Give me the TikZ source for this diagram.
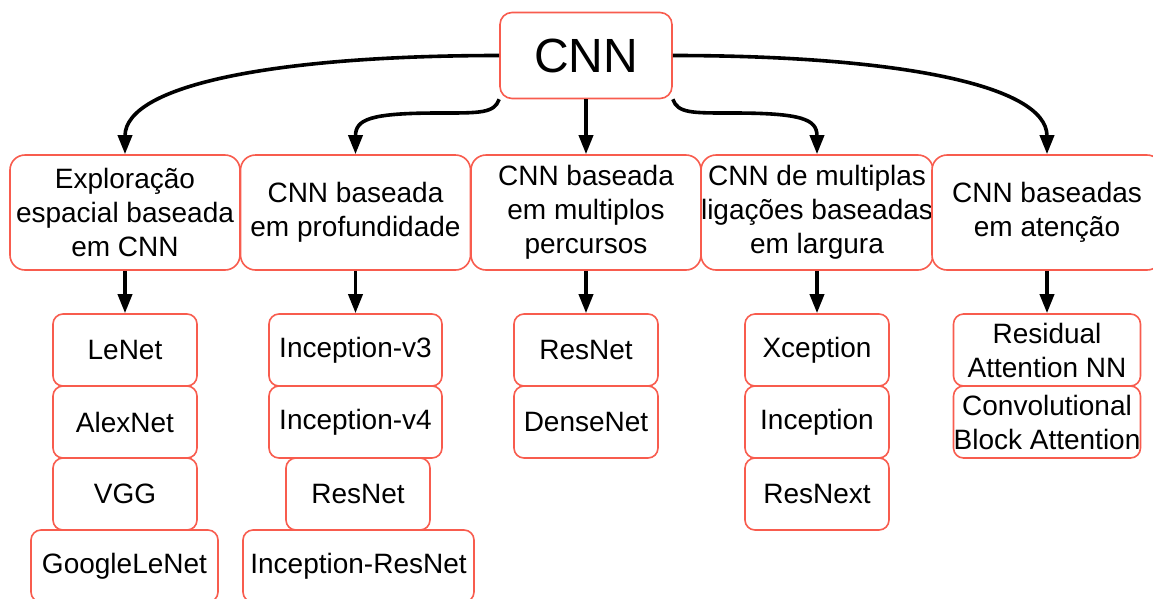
\documentclass[tikz,border=0pt]{standalone}
\usepackage{fontspec}
\setmainfont{Liberation Sans}
\usetikzlibrary{arrows.meta}
\definecolor{boxred}{RGB}{248,92,78}
\tikzset{
  basebox/.style={draw=boxred, line width=1.6pt, fill=white, inner sep=0pt,
    align=center, font=\fontsize{28}{34}\selectfont},
  rootbox/.style={basebox, rounded corners=12pt, minimum width=172pt,
    minimum height=86pt, font=\fontsize{48}{56}\selectfont},
  catbox/.style={basebox, rounded corners=15pt, minimum width=230pt,
    minimum height=115pt},
  itembox/.style={basebox, rounded corners=10pt, minimum height=72pt},
  conn/.style={line width=3.6pt, -{Triangle[length=19pt,width=14pt]}}
}
\begin{document}
\begin{tikzpicture}[x=1pt,y=-1pt]
\useasboundingbox (0,0) rectangle (1153,598);
\clip (0,0) rectangle (1153,598);

% root
\node[rootbox] (cnn) at (586,55.5) {CNN};

% categories
\node[catbox] (b1) at (125,212.5) {Exploração\\espacial baseada\\em CNN};
\node[catbox] (b2) at (355.5,212.5) {CNN baseada\\em profundidade};
\node[catbox] (b3) at (586,212.5) {CNN baseada\\em multiplos\\percursos};
\node[catbox] (b4) at (817,212.5) {CNN de multiplas\\ligações baseadas\\em largura};
\node[catbox] (b5) at (1047,212.5) {CNN baseadas\\em atenção};

% spatial exploitation
\node[itembox, minimum width=144pt] (l1) at (125,350) {LeNet};
\node[itembox, minimum width=144pt] (l2) at (125,422) {AlexNet};
\node[itembox, minimum width=144pt] (l3) at (125,494) {VGG};
\node[itembox, minimum width=187pt] (l4) at (124.5,566) {GoogleLeNet};

% depth
\node[itembox, minimum width=173pt] (p1) at (355.5,350) {Inception-v3};
\node[itembox, minimum width=173pt] (p2) at (355.5,422) {Inception-v4};
\node[itembox, minimum width=144pt] (p3) at (358,494) {ResNet};
\node[itembox, minimum width=231pt] (p4) at (358.5,566) {Inception-ResNet};

% multi-path
\node[itembox, minimum width=144pt] (m1) at (586,350) {ResNet};
\node[itembox, minimum width=144pt] (m2) at (586,422) {DenseNet};

% width
\node[itembox, minimum width=144pt] (w1) at (817,350) {Xception};
\node[itembox, minimum width=144pt] (w2) at (817,422) {Inception};
\node[itembox, minimum width=144pt] (w3) at (817,494) {ResNext};

% attention
\node[itembox, minimum width=187pt] (a1) at (1047,350) {Residual\\Attention NN};
\node[itembox, minimum width=187pt] (a2) at (1047,422) {Convolutional\\Block Attention};

% connectors from the root
\draw[conn] (cnn.west) .. controls +(-220,0) and +(0,-70) .. (b1.north);
\draw[conn] (cnn.south west) .. controls +(-5,14) and +(40,0) .. (440,113)
            .. controls +(-70,0) and +(0,-35) .. (b2.north);
\draw[conn] (cnn.south) -- (b3.north);
\draw[conn] (cnn.south east) .. controls +(5,14) and +(-40,0) .. (732,113)
            .. controls +(70,0) and +(0,-35) .. (b4.north);
\draw[conn] (cnn.east) .. controls +(220,0) and +(0,-70) .. (b5.north);

% connectors to the first model of each family
\draw[conn] (b1.south) -- (l1.north);
\draw[conn] (b2.south) -- (p1.north);
\draw[conn] (b3.south) -- (m1.north);
\draw[conn] (b4.south) -- (w1.north);
\draw[conn] (b5.south) -- (a1.north);
\end{tikzpicture}
\end{document}
